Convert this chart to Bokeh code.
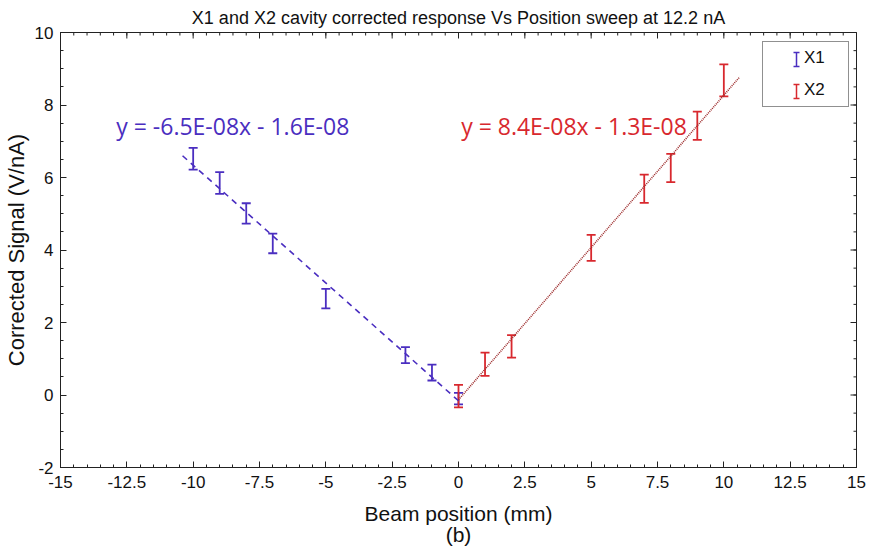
import math
from bokeh.plotting import figure
from bokeh.models import (ColumnDataSource, Whisker, TeeHead, FixedTicker,
                          Label, Legend, LegendItem, Range1d)
from bokeh.embed import file_html
from bokeh.resources import INLINE

# ---- data (signal in units of 1e-7 V/nA) ----
x1_pos = [-10, -9, -8, -7, -5, -2, -1, 0]
x1_sig = [6.52, 5.85, 5.01, 4.18, 2.66, 1.10, 0.62, -0.10]
x1_err = [0.30, 0.30, 0.28, 0.27, 0.27, 0.22, 0.22, 0.16]

x2_pos = [0, 1, 2, 5, 7, 8, 9, 10]
x2_sig = [-0.03, 0.85, 1.34, 4.06, 5.69, 6.26, 7.43, 8.68]
x2_err = [0.31, 0.32, 0.31, 0.36, 0.39, 0.39, 0.39, 0.44]

# linear fits (slope, intercept in 1e-7 units) and the x-range they cover
fit1_slope, fit1_icpt, fit1_range = -0.65, -0.16, [-10.4, 0.0]
fit2_slope, fit2_icpt, fit2_range = 0.84, -0.13, [0.0, 10.6]
eq1_text = "y = -6.5E-08x - 1.6E-08"
eq2_text = "y = 8.4E-08x - 1.3E-08"

series_names = ["X1", "X2"]

x_lim = [-15, 15]
y_lim = [-2, 10]
x_ticks = [-15, -12.5, -10, -7.5, -5, -2.5, 0, 2.5, 5, 7.5, 10, 12.5, 15]
x_tick_labels = ["-15", "-12.5", "-10", "-7.5", "-5", "-2.5", "0", "2.5", "5", "7.5", "10", "12.5", "15"]
y_ticks = [-2, 0, 2, 4, 6, 8, 10]
y_tick_labels = ["-2", "0", "2", "4", "6", "8", "10"]
x_minor = [v * 0.5 for v in range(-30, 31)]
y_minor = [v * 0.5 for v in range(-4, 21)]

BLUE = "#4a2ec0"
RED = "#d8282e"
DRED = "#9c2a2a"
INK = "#222222"
FONT = "'Liberation Sans', Arial, sans-serif"
EQFONT = "'Open Sans', sans-serif"

# layout (pixels)
W, H = 872, 549
BL, BR, BT, BB = 60, 16, 32, 82
FW, FH = W - BL - BR, H - BT - BB
px_x = lambda px: x_lim[0] + (px - BL) / FW * (x_lim[1] - x_lim[0])
px_y = lambda py: y_lim[1] - (py - BT) / FH * (y_lim[1] - y_lim[0])

p = figure(width=W, height=H, output_backend="svg", toolbar_location=None,
           x_range=Range1d(*x_lim), y_range=Range1d(*y_lim),
           min_border_left=BL, min_border_right=BR, min_border_top=BT, min_border_bottom=BB,
           background_fill_color="white", border_fill_color="white")
p.grid.visible = False
p.outline_line_color = INK
p.outline_line_width = 1

p.title.text = "X1 and X2 cavity corrected response Vs Position sweep at 12.2 nA"
p.title.align = "center"
p.title.text_font = FONT
p.title.text_font_size = "18px"
p.title.text_font_style = "normal"
p.title.text_color = "#111111"
p.title.standoff = 10

def style_axis(ax, ticks, minor, labels):
    ax.ticker = FixedTicker(ticks=ticks, minor_ticks=minor)
    ax.major_label_overrides = {t: l for t, l in zip(ticks, labels)}
    ax.major_tick_in = 6
    ax.major_tick_out = 0
    ax.minor_tick_in = 3
    ax.minor_tick_out = 0
    ax.axis_line_color = INK
    ax.major_tick_line_color = INK
    ax.minor_tick_line_color = INK
    ax.major_label_text_font = FONT
    ax.major_label_text_color = "#111111"
    ax.major_label_text_font_size = "17px"
    ax.axis_label_text_font = FONT
    ax.axis_label_text_font_style = "normal"
    ax.axis_label_text_color = "#111111"

style_axis(p.xaxis[0], x_ticks, x_minor, x_tick_labels)
style_axis(p.yaxis[0], y_ticks, y_minor, y_tick_labels)
# x-axis label carries the panel caption "(b)" on its second line
p.xaxis[0].axis_label = "Beam position (mm)\n(b)"
p.yaxis[0].axis_label = "Corrected Signal (V/nA)"
p.xaxis[0].axis_label_text_font_size = "21px"
p.xaxis[0].axis_label_text_line_height = 0.95
p.yaxis[0].axis_label_text_font_size = "22px"
p.xaxis[0].major_label_standoff = 8
p.yaxis[0].major_label_standoff = 7
p.xaxis[0].axis_label_standoff = 11
p.yaxis[0].axis_label_standoff = 3

# inward ticks on the top and right edges of the box (clipped to the frame)
p.scatter(x_ticks, [y_lim[1]] * len(x_ticks), marker="dash", angle=math.pi / 2,
          size=12, line_color=INK, line_width=1)
p.scatter(x_minor, [y_lim[1]] * len(x_minor), marker="dash", angle=math.pi / 2,
          size=6, line_color=INK, line_width=1)
p.scatter([x_lim[1]] * len(y_ticks), y_ticks, marker="dash", angle=0,
          size=12, line_color=INK, line_width=1)
p.scatter([x_lim[1]] * len(y_minor), y_minor, marker="dash", angle=0,
          size=6, line_color=INK, line_width=1)

# exponent label
p.add_layout(Label(x=x_lim[0], y=y_lim[1], text="\u00d710", x_offset=1, y_offset=3,
                   text_font=FONT, text_font_size="17px", text_color="#111111"))
p.add_layout(Label(x=x_lim[0], y=y_lim[1], text="-7", x_offset=37, y_offset=11,
                   text_font=FONT, text_font_size="12px", text_color="#111111"))

# fit lines
fy1 = [fit1_slope * v + fit1_icpt for v in fit1_range]
fy2 = [fit2_slope * v + fit2_icpt for v in fit2_range]
p.line(fit1_range, fy1, line_color=BLUE, line_width=1.6, line_dash="6 5")
p.line(fit2_range, fy2, line_color=DRED, line_width=1.6, line_dash="1 1")

# error bars
def err_source(xs, ys, es):
    return ColumnDataSource(dict(x=xs, y=ys,
                                 lo=[a - b for a, b in zip(ys, es)],
                                 hi=[a + b for a, b in zip(ys, es)]))

def add_whisker(src, col, head=9, lw=1.8):
    p.add_layout(Whisker(source=src, base="x", upper="hi", lower="lo", dimension="height",
                         line_color=col, line_width=lw,
                         upper_head=TeeHead(size=head, line_color=col, line_width=lw),
                         lower_head=TeeHead(size=head, line_color=col, line_width=lw)))

add_whisker(err_source(x1_pos, x1_sig, x1_err), BLUE)
add_whisker(err_source(x2_pos, x2_sig, x2_err), RED)

# legend: box and labels from Bokeh's Legend (transparent), error-bar icons drawn beside labels
nan = float("nan")
leg1 = p.scatter([nan], [nan], size=0, line_alpha=0, fill_alpha=0)
leg2 = p.scatter([nan], [nan], size=0, line_alpha=0, fill_alpha=0)
legend = Legend(items=[LegendItem(label=series_names[0], renderers=[leg1]),
                       LegendItem(label=series_names[1], renderers=[leg2])],
                location=(702, 360), margin=0, padding=6, spacing=12,
                glyph_width=33, glyph_height=20, label_standoff=2,
                label_width=38, label_height=20,
                label_text_font=FONT, label_text_font_size="17px",
                label_text_color="#111111",
                border_line_color=INK, border_line_width=1,
                background_fill_alpha=0.0)
p.add_layout(legend)
icon_half = 7 / FH * (y_lim[1] - y_lim[0])
for row_py, col in ((59, BLUE), (91, RED)):
    cy = px_y(row_py)
    add_whisker(ColumnDataSource(dict(x=[px_x(796)], lo=[cy - icon_half], hi=[cy + icon_half])),
                col, head=6, lw=1.5)

# equations
p.add_layout(Label(x=-12.9, y=7.43, text=eq1_text, text_baseline="middle",
                   text_font=EQFONT, text_font_size="23px", text_color=BLUE))
p.add_layout(Label(x=0.1, y=7.43, text=eq2_text, text_baseline="middle",
                   text_font=EQFONT, text_font_size="23px", text_color=RED))

open("out.html", "w").write(file_html(p, INLINE))
